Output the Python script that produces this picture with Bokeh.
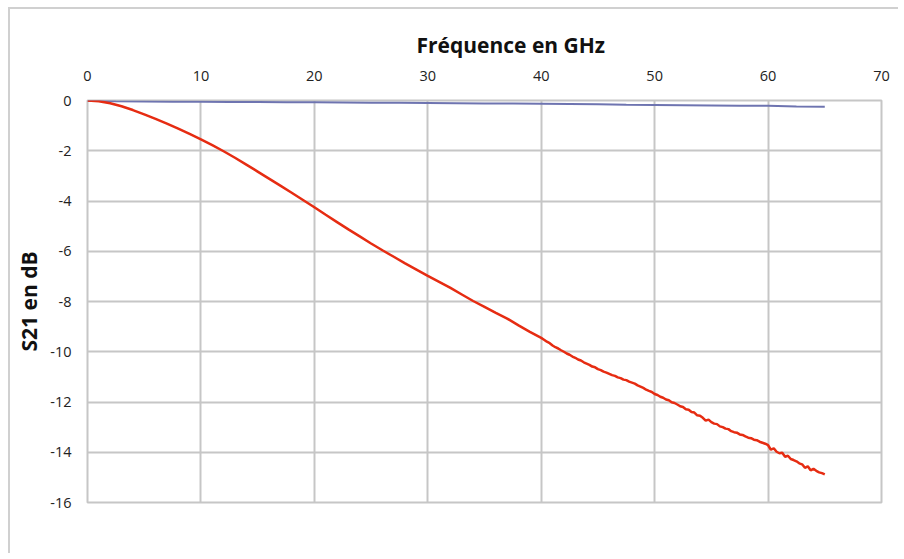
import numpy as np
from bokeh.plotting import figure
from bokeh.models import Range1d, FixedTicker, PrintfTickFormatter
from bokeh.embed import file_html
from bokeh.resources import INLINE

# ---------------- data ----------------
x_ticks = [0, 10, 20, 30, 40, 50, 60, 70]
y_ticks = [-16, -14, -12, -10, -8, -6, -4, -2, 0]

# S21 (red) - smooth part 0..40 GHz every 1 GHz
freq_red_a = list(range(0, 41))
s21_red_a = [0.0, -0.03, -0.11, -0.23, -0.38, -0.55, -0.73, -0.92, -1.12, -1.33,
             -1.55, -1.78, -2.02, -2.28, -2.55, -2.83, -3.11, -3.39, -3.67, -3.96,
             -4.25, -4.55, -4.84, -5.13, -5.41, -5.69, -5.96, -6.22, -6.48, -6.73,
             -6.98, -7.22, -7.46, -7.72, -7.98, -8.21, -8.45, -8.68, -8.95, -9.21,
             -9.45]
# S21 (red) - noisy part 40.25..65 GHz every 0.25 GHz
freq_red_b = [40 + 0.25 * k for k in range(1, 101)]
s21_red_b = [-9.52, -9.60, -9.66, -9.75,
             -9.82, -9.87, -9.94, -10.00,
             -10.07, -10.12, -10.19, -10.24,
             -10.31, -10.35, -10.42, -10.47,
             -10.52, -10.59, -10.62, -10.69,
             -10.73, -10.79, -10.83, -10.88,
             -10.93, -10.96, -11.02, -11.05,
             -11.11, -11.13, -11.19, -11.23,
             -11.27, -11.34, -11.39, -11.44,
             -11.51, -11.56, -11.60, -11.68,
             -11.72, -11.79, -11.83, -11.90,
             -11.93, -12.01, -12.04, -12.10,
             -12.17, -12.20, -12.29, -12.31,
             -12.40, -12.42, -12.53, -12.55,
             -12.63, -12.74, -12.70, -12.80,
             -12.86, -12.88, -12.97, -13.00,
             -13.06, -13.08, -13.16, -13.20,
             -13.22, -13.29, -13.31, -13.37,
             -13.42, -13.44, -13.50, -13.52,
             -13.58, -13.62, -13.66, -13.72,
             -13.90, -13.84, -13.98, -14.04,
             -14.02, -14.18, -14.14, -14.27,
             -14.31, -14.36, -14.44, -14.48,
             -14.62, -14.56, -14.72, -14.66,
             -14.74, -14.80, -14.83, -14.88]

# reference (blue) trace
freq_blue = [0, 2.5, 5, 7.5, 10, 12.5, 15, 17.5, 20, 22.5, 25, 27.5, 30, 32.5,
             35, 37.5, 40, 42.5, 45, 47.5, 50, 52.5, 55, 57.5, 60, 62.5, 65]
s21_blue = [-0.01, -0.03, -0.04, -0.05, -0.05, -0.06, -0.06, -0.07, -0.07, -0.08,
            -0.09, -0.09, -0.10, -0.11, -0.12, -0.12, -0.13, -0.14, -0.15, -0.17,
            -0.18, -0.19, -0.20, -0.21, -0.21, -0.24, -0.25]

freq_red = freq_red_a + freq_red_b
s21_red = s21_red_a + s21_red_b

# ---------------- figure ----------------
FONT = "Open Sans"
p = figure(width=890, height=546, output_backend="svg", toolbar_location=None,
           x_axis_location="above",
           x_range=Range1d(0, 70), y_range=Range1d(-16, 0),
           min_border_left=77, min_border_right=19,
           min_border_top=91, min_border_bottom=53)

p.styles = {"margin-top": "7px", "margin-left": "8px",
            "border-top": "2px solid #d0d0d0", "border-left": "2px solid #d0d0d0"}

p.title.text = "Fréquence en GHz"
p.title.align = "left"
p.title.offset = 329
p.title.standoff = 17
p.title.text_font = FONT
p.title.text_font_size = "21px"
p.title.text_font_style = "bold"
p.title.text_color = "#111111"

p.outline_line_color = "#c6c6c6"
p.outline_line_width = 2

for ax in (p.xaxis[0], p.yaxis[0]):
    ax.axis_line_color = None
    ax.major_tick_line_color = None
    ax.minor_tick_line_color = None
    ax.major_label_text_font = FONT
    ax.major_label_text_font_size = "14.5px"
    ax.major_label_text_color = "#222222"
    ax.major_tick_out = 0
    ax.major_tick_in = 0
    ax.formatter = PrintfTickFormatter(format="%d")

p.xaxis.ticker = FixedTicker(ticks=x_ticks)
p.yaxis.ticker = FixedTicker(ticks=y_ticks)
p.xaxis.major_label_standoff = 20
p.yaxis.major_label_standoff = 16

p.yaxis.axis_label = "S21 en dB"
p.yaxis.axis_label_text_font = FONT
p.yaxis.axis_label_text_font_size = "21px"
p.yaxis.axis_label_text_font_style = "bold"
p.yaxis.axis_label_text_color = "#111111"
p.yaxis.axis_label_standoff = 4

p.xgrid.ticker = FixedTicker(ticks=x_ticks)
p.ygrid.ticker = FixedTicker(ticks=y_ticks)
for g in (p.xgrid[0], p.ygrid[0]):
    g.grid_line_color = "#c6c6c6"
    g.grid_line_width = 2

p.line(freq_blue, s21_blue, line_color="#6e74b0", line_width=2)
p.line(freq_red, s21_red, line_color="#e62c12", line_width=2.5)

open("out.html", "w").write(file_html(p, INLINE))
